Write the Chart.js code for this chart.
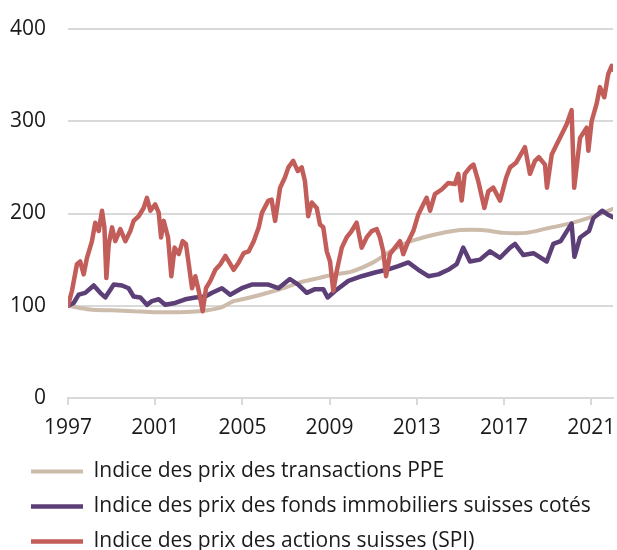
<!DOCTYPE html>
<html>
<head>
<meta charset="utf-8">
<script src="https://cdn.jsdelivr.net/npm/chart.js@4.4.0/dist/chart.umd.min.js"></script>
<style>
  body { margin: 0; background: #fff; }
  #wrap { width: 617px; height: 550px; }
</style>
</head>
<body>
<div id="wrap"><canvas id="chart" width="617" height="550"></canvas></div>
<script>
// Year ticks shown on the x axis
const tickYears = [1997, 2001, 2005, 2009, 2013, 2017, 2021];

const seriesLabels = [
    'Indice des prix des transactions PPE',
    'Indice des prix des fonds immobiliers suisses cotés',
    'Indice des prix des actions suisses (SPI)'
];

// Indice des prix des transactions PPE
const ppeYears = [1997.0, 1998.0, 1999.0, 2000.0, 2001.0, 2002.0, 2003.0, 2004.0, 2004.6, 2005.0,
    2006.0, 2007.0, 2007.6, 2008.5, 2009.2, 2010.0, 2011.0, 2011.8, 2012.5, 2013.0,
    2014.0, 2015.0, 2016.0, 2017.0, 2018.0, 2019.0, 2020.0, 2021.0, 2022.0];
const ppeValues = [100, 96, 95, 94, 93, 93, 94, 98, 105, 107,
    113, 120, 125, 130, 134, 137, 147, 159, 168, 172,
    178, 182, 182, 179, 179, 184, 189, 196, 205];

// Indice des prix des fonds immobiliers suisses cotés
const fundYears = [1997.0, 1997.26, 1997.49, 1997.79, 1998.18, 1998.48, 1998.71, 1999.1, 1999.48, 1999.78,
    2000.01, 2000.32, 2000.62, 2000.85, 2001.16, 2001.46, 2001.92, 2002.38, 2002.84, 2003.3,
    2003.61, 2004.06, 2004.44, 2004.97, 2005.43, 2005.81, 2006.19, 2006.65, 2007.18, 2007.56,
    2007.95, 2008.33, 2008.71, 2008.91, 2009.25, 2009.86, 2010.47, 2011.08, 2011.62, 2012.15,
    2012.61, 2013.07, 2013.53, 2013.99, 2014.44, 2014.83, 2015.13, 2015.44, 2015.9, 2016.36,
    2016.82, 2017.28, 2017.5, 2017.89, 2018.35, 2018.96, 2019.26, 2019.6, 2020.1, 2020.23,
    2020.49, 2020.9, 2021.1, 2021.5, 2021.75, 2022.0];
const fundValues = [100, 103, 112, 114, 122, 114, 109, 123, 122, 119,
    110, 109, 101, 105, 107, 101, 103, 107, 109, 110,
    114, 119, 112, 119, 123, 123, 123, 119, 129, 123,
    114, 118, 118, 109, 116, 127, 132, 136, 139, 143,
    147, 139, 132, 134, 139, 145, 163, 148, 150, 159,
    152, 163, 167, 155, 157, 148, 167, 170, 189, 153,
    174, 181, 195, 203, 199, 196];

// Indice des prix des actions suisses (SPI)
const spiYears = [1997.0, 1997.18, 1997.41, 1997.56, 1997.72, 1997.87, 1998.1, 1998.25, 1998.41, 1998.56,
    1998.67, 1998.76, 1998.87, 1999.02, 1999.17, 1999.4, 1999.63, 1999.86, 2000.01, 2000.24,
    2000.47, 2000.62, 2000.78, 2001.0, 2001.16, 2001.27, 2001.39, 2001.59, 2001.74, 2001.89,
    2002.08, 2002.26, 2002.41, 2002.54, 2002.69, 2002.84, 2003.0, 2003.18, 2003.33, 2003.53,
    2003.76, 2003.99, 2004.22, 2004.37, 2004.6, 2004.83, 2005.06, 2005.29, 2005.52, 2005.75,
    2005.9, 2006.19, 2006.34, 2006.5, 2006.73, 2006.95, 2007.11, 2007.33, 2007.54, 2007.72,
    2007.87, 2008.02, 2008.18, 2008.41, 2008.56, 2008.71, 2008.87, 2009.02, 2009.17, 2009.33,
    2009.56, 2009.78, 2010.01, 2010.24, 2010.47, 2010.7, 2010.93, 2011.16, 2011.31, 2011.46,
    2011.59, 2011.77, 2012.0, 2012.23, 2012.38, 2012.61, 2012.84, 2013.07, 2013.3, 2013.45,
    2013.61, 2013.83, 2014.14, 2014.44, 2014.75, 2014.9, 2015.06, 2015.2, 2015.44, 2015.6,
    2015.82, 2016.1, 2016.28, 2016.51, 2016.82, 2017.1, 2017.28, 2017.55, 2017.96, 2018.19,
    2018.42, 2018.6, 2018.88, 2018.97, 2019.19, 2019.42, 2019.65, 2019.88, 2020.1, 2020.22,
    2020.49, 2020.79, 2020.87, 2021.02, 2021.25, 2021.4, 2021.6, 2021.78, 2021.94, 2022.0];
const spiValues = [100, 116, 145, 148, 134, 152, 170, 190, 181, 203,
    185, 130, 167, 185, 170, 183, 170, 181, 192, 197,
    206, 217, 203, 210, 201, 174, 192, 174, 132, 163,
    156, 170, 167, 145, 119, 132, 116, 94, 119, 127,
    139, 145, 154, 148, 139, 147, 157, 159, 170, 185,
    201, 214, 215, 192, 228, 239, 250, 257, 246, 250,
    235, 197, 212, 206, 188, 185, 159, 148, 116, 138,
    163, 174, 181, 190, 163, 174, 181, 183, 174, 159,
    132, 156, 163, 170, 156, 170, 181, 199, 210, 217,
    203, 221, 226, 233, 232, 243, 214, 243, 250, 253,
    235, 206, 224, 228, 214, 239, 250, 255, 272, 243,
    257, 261, 253, 228, 264, 275, 286, 297, 312, 228,
    282, 293, 268, 300, 319, 337, 326, 351, 360, 356];

function toPoints(xs, ys) {
    return xs.map(function (x, i) { return { x: x, y: ys[i] }; });
}

const textColor = '#1a1a1a';
const gridColor = '#d9d9d9';
const fontFamily = "'Open Sans', 'Noto Sans', sans-serif";

Chart.defaults.font.family = fontFamily;
Chart.defaults.color = textColor;

const ctx = document.getElementById('chart').getContext('2d');
const chart = new Chart(ctx, {
    type: 'line',
    data: {
        datasets: [{
            label: seriesLabels[0],
            data: toPoints(ppeYears, ppeValues),
            borderColor: '#cdbcab',
            backgroundColor: '#cdbcab',
            borderWidth: 4,
            tension: 0.3,
            order: 2
        }, {
            label: seriesLabels[1],
            data: toPoints(fundYears, fundValues),
            borderColor: '#5c3f77',
            backgroundColor: '#5c3f77',
            borderWidth: 4.5,
            order: 1
        }, {
            label: seriesLabels[2],
            data: toPoints(spiYears, spiValues),
            borderColor: '#c25d5a',
            backgroundColor: '#c25d5a',
            borderWidth: 4.5,
            order: 0
        }]
    },
    options: {
        responsive: false,
        animation: false,
        layout: { padding: { top: 29, right: 4, left: 0, bottom: 0 } },
        elements: {
            point: { radius: 0 },
            line: { borderCapStyle: 'round', borderJoinStyle: 'round' }
        },
        scales: {
            x: {
                type: 'linear',
                min: 1997,
                max: 2022,
                afterBuildTicks: function (scale) {
                    scale.ticks = tickYears.map(function (v) { return { value: v }; });
                },
                afterFit: function (scale) {
                    // fixed axis band height; no extra side padding
                    scale.height = 37;
                    scale.paddingLeft = 0;
                    scale.paddingRight = 0;
                },
                ticks: {
                    font: { size: 21 },
                    color: textColor,
                    padding: 10,
                    maxRotation: 0,
                    autoSkip: false,
                    callback: function (value) { return String(value); }
                },
                grid: {
                    drawOnChartArea: false,
                    tickLength: 7,
                    color: gridColor,
                    lineWidth: 2
                },
                border: { display: true, color: gridColor, width: 2 }
            },
            y: {
                min: 0,
                max: 400,
                afterFit: function (scale) {
                    scale.width = 68;
                    scale.paddingTop = 0;
                    scale.paddingBottom = 0;
                },
                ticks: {
                    stepSize: 100,
                    font: { size: 21 },
                    color: textColor,
                    padding: 22
                },
                grid: {
                    drawTicks: false,
                    color: gridColor,
                    lineWidth: 2
                },
                border: { display: false }
            }
        },
        plugins: {
            tooltip: { enabled: false },
            legend: {
                position: 'bottom',
                align: 'start',
                labels: {
                    usePointStyle: true,
                    pointStyle: 'line',
                    pointStyleWidth: 52,
                    font: { size: 21 },
                    color: textColor,
                    padding: 14,
                    sort: function (a, b) { return a.datasetIndex - b.datasetIndex; }
                }
            }
        }
    },
    plugins: [{
        id: 'legendShift',
        afterLayout: function (c) {
            // let the year labels overflow the short axis band (no clipping)
            c.scales.x.bottom = c.scales.x.top + 60;
            // move the legend rows right and down, like the original
            c.legend.left += 17;
            c.legend.top += 12;
        }
    }]
});
</script>
</body>
</html>
